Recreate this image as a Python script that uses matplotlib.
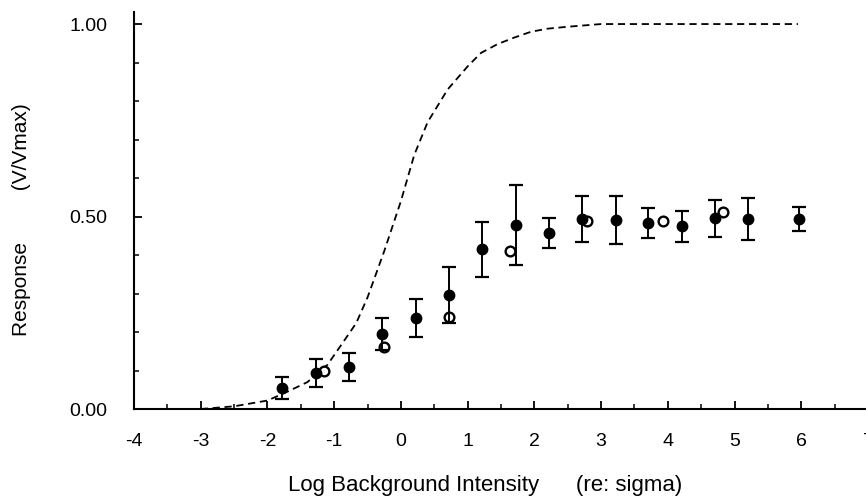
import matplotlib
matplotlib.use('Agg')
import matplotlib.pyplot as plt
from matplotlib.ticker import MultipleLocator, FormatStrFormatter

# dashed template curve
curve_x = [-3.0, -2.5, -2.0, -1.7, -1.4, -1.1, -0.9, -0.67, -0.5, -0.25, 0.0, 0.2, 0.4,
           0.7, 1.0, 1.2, 1.45, 1.7, 1.95, 2.2, 2.5, 3.0, 4.0, 5.0, 5.95]
curve_y = [0.0, 0.007, 0.022, 0.045, 0.07, 0.115, 0.165, 0.223, 0.29, 0.41, 0.54, 0.66, 0.745,
           0.83, 0.89, 0.925, 0.948, 0.965, 0.98, 0.988, 0.993, 1.0, 1.0, 1.0, 1.0]

# filled symbols with error bars
filled_x = [-1.78, -1.27, -0.78, -0.28, 0.22, 0.72, 1.21, 1.72, 2.22, 2.71, 3.22, 3.70, 4.21, 4.71, 5.20, 5.97]
filled_y = [0.055, 0.094, 0.109, 0.195, 0.236, 0.296, 0.415, 0.478, 0.457, 0.494, 0.491, 0.483, 0.475, 0.496, 0.494, 0.494]
filled_err = [0.028, 0.037, 0.036, 0.042, 0.05, 0.072, 0.072, 0.104, 0.038, 0.06, 0.062, 0.039, 0.04, 0.048, 0.055, 0.032]

# open symbols
open_x = [-1.15, -0.25, 0.72, 1.63, 2.79, 3.93, 4.83]
open_y = [0.099, 0.161, 0.239, 0.41, 0.488, 0.488, 0.512]

plt.rcParams['font.family'] = ['Liberation Sans', 'DejaVu Sans']
plt.rcParams['axes.unicode_minus'] = False

fig = plt.figure(figsize=(8.66, 4.98), dpi=100)
ax = fig.add_axes([134 / 866, 89 / 498, 734 / 866, 396.5 / 498])

ax.plot(curve_x, curve_y, color='black', lw=1.3, linestyle=(0, (4, 2.6)))
ax.plot(open_x, open_y, 'o', ms=7, mfc='white', mec='black', mew=1.7, zorder=3)
ax.errorbar(filled_x, filled_y, yerr=filled_err, fmt='o', color='black', ms=7.5,
            elinewidth=1.4, capsize=5, capthick=1.6, zorder=4)

ax.set_xlim(-4, 7)
ax.set_ylim(0, 1.03)
ax.spines['top'].set_visible(False)
ax.spines['right'].set_visible(False)
ax.spines['left'].set_linewidth(1.5)
ax.spines['bottom'].set_linewidth(1.5)

ax.xaxis.set_major_locator(MultipleLocator(1))
ax.xaxis.set_minor_locator(MultipleLocator(0.5))
ax.yaxis.set_major_locator(MultipleLocator(0.5))
ax.yaxis.set_minor_locator(MultipleLocator(0.1))
ax.yaxis.set_major_formatter(FormatStrFormatter('%.2f'))
ax.tick_params(which='major', direction='in', length=6, width=1.3, labelsize=14)
ax.tick_params(axis='x', which='major', pad=17)
ax.tick_params(axis='y', which='major', pad=19)
ax.tick_params(which='minor', direction='in', length=3.5, width=1.1)

fig.text(485 / 866, 1 - 491 / 498, 'Log Background Intensity      (re: sigma)',
         ha='center', va='baseline', fontsize=16)
fig.text(22 / 866, 1 - 220 / 498, 'Response         (V/Vmax)', rotation=90,
         ha='center', va='center', fontsize=15)

plt.savefig('out.png', dpi=100)
